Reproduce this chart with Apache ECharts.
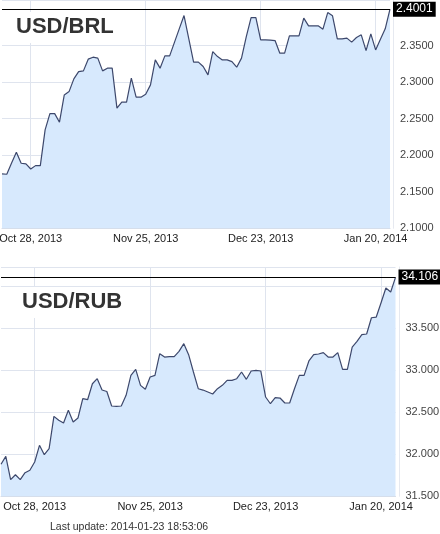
<!DOCTYPE html>
<html>
<head>
<meta charset="utf-8">
<script src="https://cdn.jsdelivr.net/npm/echarts@6/dist/echarts.min.js"></script>
<style>
  html, body { margin: 0; padding: 0; background: #fff; }
  #chart { width: 440px; height: 534px; }
</style>
</head>
<body>
<div id="chart"></div>
<script>
// USD/BRL daily closes (Mon 2013-10-21 .. Thu 2014-01-23, Saturdays omitted)
const brlValues = [
  2.1744, 2.1740, 2.1895, 2.2041, 2.1890, 2.1881, 2.1812, 2.1858, 2.1858, 2.2347,
  2.2570, 2.2570, 2.2452, 2.2826, 2.2871, 2.3045, 2.3145, 2.3155, 2.3315, 2.3342,
  2.3329, 2.3155, 2.3192, 2.3192, 2.2644, 2.2726, 2.2726, 2.3055, 2.2795, 2.2795,
  2.2836, 2.2963, 2.3305, 2.3192, 2.3360, 2.3360, 2.3545, 2.3730, 2.3912, 2.3593,
  2.3274, 2.3274, 2.3214, 2.3100, 2.3419, 2.3351, 2.3305, 2.3305, 2.3282, 2.3205,
  2.3329, 2.3625, 2.3885, 2.3885, 2.3579, 2.3579, 2.3575, 2.3570, 2.3397, 2.3397,
  2.3634, 2.3634, 2.3634, 2.3877, 2.3771, 2.3771, 2.3771, 2.3726, 2.3953, 2.3908,
  2.3593, 2.3593, 2.3603, 2.3548, 2.3611, 2.3648, 2.3433, 2.3662, 2.3442, 2.3589,
  2.3730, 2.4001
];

// USD/RUB daily closes (Sun 2013-10-20 .. Thu 2014-01-23, Saturdays omitted)
const rubValues = [
  31.881, 31.976, 31.698, 31.757, 31.698, 31.781, 31.810, 31.908, 32.107, 31.995,
  32.067, 32.452, 32.405, 32.373, 32.524, 32.385, 32.432, 32.662, 32.650, 32.840,
  32.900, 32.765, 32.748, 32.575, 32.571, 32.575, 32.702, 32.940, 33.012, 32.821,
  32.774, 32.920, 32.940, 33.198, 33.158, 33.162, 33.162, 33.226, 33.317, 33.186,
  32.980, 32.781, 32.765, 32.742, 32.718, 32.781, 32.821, 32.881, 32.881, 32.900,
  32.980, 32.893, 32.992, 33.000, 32.992, 32.682, 32.602, 32.674, 32.670, 32.611,
  32.611, 32.781, 32.940, 32.940, 33.111, 33.186, 33.194, 33.210, 33.158, 33.158,
  33.210, 33.012, 33.012, 33.277, 33.345, 33.424, 33.432, 33.626, 33.634, 33.805,
  33.980, 33.932, 34.106
];

const tickDates  = ['2013-10-28', '2013-11-25', '2013-12-23', '2014-01-20'];
const tickLabels = ['Oct 28, 2013', 'Nov 25, 2013', 'Dec 23, 2013', 'Jan 20, 2014'];

const brlTicks = [2.1, 2.15, 2.2, 2.25, 2.3, 2.35];
const rubTicks = [31.5, 32.0, 32.5, 33.0, 33.5];

const FONT = '"Liberation Sans", Arial, sans-serif';

// Quote days: every calendar day except Saturday
function quoteDays(startIso, count) {
  const out = [];
  const d = new Date(startIso + 'T00:00:00Z');
  while (out.length < count) {
    if (d.getUTCDay() !== 6) out.push(d.toISOString().slice(0, 10));
    d.setUTCDate(d.getUTCDate() + 1);
  }
  return out;
}

const brlDays = quoteDays('2013-10-21', brlValues.length);
const rubDays = quoteDays('2013-10-20', rubValues.length);

const isTick = (idx, value) => tickDates.indexOf(value) >= 0;
const gridColor = '#dfe4ee';

function xAxisFor(gridIndex, days) {
  return {
    type: 'category', gridIndex, data: days, boundaryGap: false,
    axisLine: { show: true, lineStyle: { color: '#d5dae4' } },
    axisTick: { show: false },
    axisLabel: {
      interval: isTick, margin: 5, color: '#222', fontSize: 11, fontFamily: FONT,
      hideOverlap: false,
      formatter: v => tickLabels[tickDates.indexOf(v)]
    },
    splitLine: { show: true, interval: isTick, lineStyle: { color: gridColor, width: 1 } }
  };
}

function yAxisFor(gridIndex, min, max, step, ticks, digits) {
  return {
    type: 'value', gridIndex, position: 'right', min, max, interval: step,
    offset: 3.5,
    axisLine: { show: true, lineStyle: { color: '#e6e9f0' } },
    axisTick: { show: false },
    axisLabel: {
      margin: 6.5, color: '#444', fontSize: 11, fontFamily: FONT,
      formatter: v => ticks.some(t => Math.abs(t - v) < 1e-6) ? v.toFixed(digits) : ''
    },
    splitLine: { show: true, lineStyle: { color: gridColor, width: 1 } }
  };
}

function seriesFor(idx, values, digits) {
  const last = values[values.length - 1];
  return {
    type: 'line', xAxisIndex: idx, yAxisIndex: idx, data: values,
    symbol: 'none', smooth: false,
    lineStyle: { color: '#3d486c', width: 1.2 },
    areaStyle: { color: '#d7e9fd', opacity: 1 },
    markLine: {
      silent: true, symbol: 'none',
      lineStyle: { color: '#000', width: 1, type: 'solid' },
      label: {
        show: true, position: 'end', distance: 3,
        formatter: () => last.toFixed(digits),
        backgroundColor: '#000', color: '#fff', padding: [2, 3, 1, 3],
        fontSize: 12, fontFamily: FONT
      },
      data: [{ yAxis: last }]
    }
  };
}

const chart = echarts.init(document.getElementById('chart'), null, { renderer: 'canvas' });
chart.setOption({
  animation: false,
  backgroundColor: '#fff',
  title: [
    { text: 'USD/BRL', left: 13, top: 12, padding: [4, 3, 5, 3], backgroundColor: '#fff',
      textStyle: { fontSize: 22, fontWeight: 'bold', color: '#333', fontFamily: FONT } },
    { text: 'USD/RUB', left: 19, top: 287, padding: [4, 3, 5, 3], backgroundColor: '#fff',
      textStyle: { fontSize: 22, fontWeight: 'bold', color: '#333', fontFamily: FONT } }
  ],
  grid: [
    { left: 2, right: 50, top: 0, bottom: 305.7, outerBoundsMode: 'none', containLabel: false },
    { left: 1, right: 44.5, top: 267, bottom: 37.7, outerBoundsMode: 'none', containLabel: false }
  ],
  xAxis: [xAxisFor(0, brlDays), xAxisFor(1, rubDays)],
  yAxis: [
    yAxisFor(0, 2.1, 2.4125, 0.05, brlTicks, 4),
    yAxisFor(1, 31.5, 34.23, 0.5, rubTicks, 3)
  ],
  series: [seriesFor(0, brlValues, 4), seriesFor(1, rubValues, 3)],
  graphic: [
    { type: 'text', left: 50, top: 522,
      style: { text: 'Last update: 2014-01-23 18:53:06', fill: '#333', fontSize: 10.5, fontFamily: FONT } }
  ]
});
</script>
</body>
</html>
